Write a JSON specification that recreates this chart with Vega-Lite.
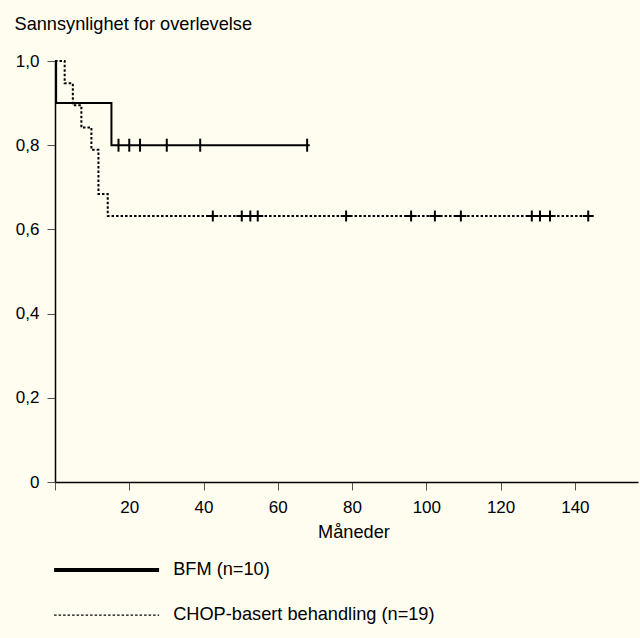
{
  "$schema": "https://vega.github.io/schema/vega-lite/v6.json",
  "width": 583,
  "height": 421,
  "autosize": "none",
  "padding": {"left": 55, "top": 61, "right": 2, "bottom": 156},
  "background": "#fffdf0",
  "config": {"view": {"stroke": null}, "font": "Liberation Sans"},
  "datasets": {
    "curves": [
      {"group": "BFM (n=10)", "months": 0, "survival": 1.0},
      {"group": "BFM (n=10)", "months": 0.3, "survival": 0.9},
      {"group": "BFM (n=10)", "months": 15.2, "survival": 0.8},
      {"group": "BFM (n=10)", "months": 68.6, "survival": 0.8},
      {"group": "CHOP-basert behandling (n=19)", "months": 0, "survival": 1.0},
      {"group": "CHOP-basert behandling (n=19)", "months": 2.6, "survival": 0.947},
      {"group": "CHOP-basert behandling (n=19)", "months": 4.8, "survival": 0.895},
      {"group": "CHOP-basert behandling (n=19)", "months": 7.1, "survival": 0.842},
      {"group": "CHOP-basert behandling (n=19)", "months": 9.8, "survival": 0.789},
      {"group": "CHOP-basert behandling (n=19)", "months": 11.7, "survival": 0.684},
      {"group": "CHOP-basert behandling (n=19)", "months": 14.2, "survival": 0.632},
      {"group": "CHOP-basert behandling (n=19)", "months": 144.5, "survival": 0.632}
    ],
    "censored": [
      {"group": "BFM (n=10)", "months": 17.1, "survival": 0.8},
      {"group": "BFM (n=10)", "months": 20.0, "survival": 0.8},
      {"group": "BFM (n=10)", "months": 22.9, "survival": 0.8},
      {"group": "BFM (n=10)", "months": 30.1, "survival": 0.8},
      {"group": "BFM (n=10)", "months": 39.1, "survival": 0.8},
      {"group": "BFM (n=10)", "months": 67.9, "survival": 0.8},
      {"group": "CHOP-basert behandling (n=19)", "months": 42.5, "survival": 0.632},
      {"group": "CHOP-basert behandling (n=19)", "months": 50.3, "survival": 0.632},
      {"group": "CHOP-basert behandling (n=19)", "months": 52.6, "survival": 0.632},
      {"group": "CHOP-basert behandling (n=19)", "months": 54.6, "survival": 0.632},
      {"group": "CHOP-basert behandling (n=19)", "months": 78.4, "survival": 0.632},
      {"group": "CHOP-basert behandling (n=19)", "months": 95.9, "survival": 0.632},
      {"group": "CHOP-basert behandling (n=19)", "months": 102.3, "survival": 0.632},
      {"group": "CHOP-basert behandling (n=19)", "months": 109.3, "survival": 0.632},
      {"group": "CHOP-basert behandling (n=19)", "months": 128.4, "survival": 0.632},
      {"group": "CHOP-basert behandling (n=19)", "months": 130.6, "survival": 0.632},
      {"group": "CHOP-basert behandling (n=19)", "months": 133.3, "survival": 0.632},
      {"group": "CHOP-basert behandling (n=19)", "months": 143.6, "survival": 0.632}
    ]
  },
  "layer": [
    {
      "data": {"name": "curves"},
      "mark": {"type": "line", "interpolate": "step-after", "color": "black", "strokeWidth": 2},
      "encoding": {
        "x": {
          "field": "months", "type": "quantitative",
          "scale": {"domain": [0, 157], "nice": false, "zero": false},
          "axis": {
            "values": [0, 20, 40, 60, 80, 100, 120, 140],
            "labelExpr": "datum.value == 0 ? '' : datum.label",
            "grid": false,
            "tickSize": 8, "tickColor": "#555", "tickWidth": 1,
            "domainColor": "black", "domainWidth": 1.5,
            "labelFontSize": 17, "labelColor": "black", "labelBaseline": "alphabetic", "labelPadding": 22,
            "title": "Måneder", "titleFontSize": 18.2, "titleFontWeight": "normal", "titleColor": "black",
            "titleX": 298.5, "titleY": 55, "titleAlign": "center", "titleBaseline": "alphabetic"
          }
        },
        "y": {
          "field": "survival", "type": "quantitative",
          "scale": {"domain": [0, 1], "nice": false},
          "axis": {
            "values": [0, 0.2, 0.4, 0.6, 0.8, 1.0],
            "labelExpr": "datum.value == 0 ? '0' : replace(format(datum.value, '.1f'), '.', ',')",
            "grid": false,
            "tickSize": 8, "tickColor": "#555", "tickWidth": 1,
            "domainColor": "black", "domainWidth": 1.5,
            "labelFontSize": 17, "labelColor": "black", "labelPadding": 8,
            "title": "Sannsynlighet for overlevelse", "titleFontSize": 18.2, "titleFontWeight": "normal", "titleColor": "black",
            "titleAngle": 0, "titleAlign": "left", "titleBaseline": "alphabetic", "titleX": -41, "titleY": -32
          }
        },
        "strokeDash": {
          "field": "group", "type": "nominal",
          "scale": {"domain": ["BFM (n=10)", "CHOP-basert behandling (n=19)"], "range": [[1, 0], [2.5, 2]]},
          "legend": {
            "orient": "none", "legendX": -10, "legendY": 500, "title": null,
            "symbolType": "M0,0H21", "symbolSize": 100,
            "symbolStrokeColor": "black", "symbolFillColor": "transparent",
            "labelFontSize": 18.2, "labelColor": "black", "labelOffset": 110, "labelLimit": 0,
            "rowPadding": 26, "padding": 0,
            "encode": {
              "symbols": {
                "update": {
                  "strokeWidth": {"signal": "datum.label == 'BFM (n=10)' ? 4 : 1.2"},
                  "strokeDash": {"signal": "datum.label == 'BFM (n=10)' ? [1, 0] : [1, 2]"}
                }
              }
            }
          }
        }
      }
    },
    {
      "data": {"name": "censored"},
      "transform": [{"filter": "datum.group == 'BFM (n=10)'"}],
      "mark": {"type": "point", "shape": "M0,-1L0,1", "size": 169, "filled": false, "color": "black", "strokeWidth": 2, "opacity": 1},
      "encoding": {
        "x": {"field": "months", "type": "quantitative"},
        "y": {"field": "survival", "type": "quantitative"}
      }
    },
    {
      "data": {"name": "censored"},
      "transform": [{"filter": "datum.group != 'BFM (n=10)'"}],
      "mark": {"type": "point", "shape": "M-1,0L1,0M0,-1L0,1", "size": 121, "filled": false, "color": "black", "strokeWidth": 2, "opacity": 1},
      "encoding": {
        "x": {"field": "months", "type": "quantitative"},
        "y": {"field": "survival", "type": "quantitative"}
      }
    }
  ]
}
